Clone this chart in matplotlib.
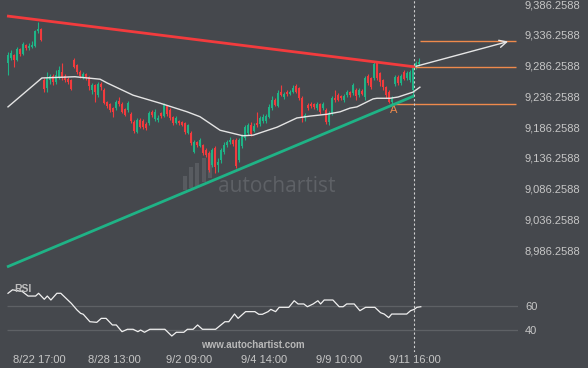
import matplotlib
matplotlib.use('Agg')
import matplotlib.pyplot as plt
from matplotlib.patches import Rectangle

# ---------------- data ----------------
opens = [9290, 9298, 9303, 9295, 9313, 9305, 9320, 9315, 9316, 9318, 9342, 9346,
         9263, 9250, 9263, 9269, 9259, 9268, 9276, 9269, 9264, 9263,
         9295, 9287, 9276, 9268, 9272, 9268, 9246, 9255, 9238, 9256, 9246, 9227,
         9224, 9217, 9217, 9229, 9224, 9216, 9214, 9207, 9194, 9178, 9198, 9196,
         9191, 9193, 9211, 9199, 9198, 9209, 9204, 9220, 9214, 9203, 9193, 9196,
         9194, 9193, 9177, 9177, 9146, 9162, 9155, 9157, 9149, 9144, 9125, 9152,
         9125, 9133, 9146, 9157, 9162, 9165, 9165, 9133, 9155, 9168, 9177, 9190,
         9180, 9193, 9191, 9196, 9196, 9203, 9217, 9230, 9220, 9243, 9235, 9243,
         9240, 9243, 9253, 9250, 9233, 9201, 9222, 9224, 9224, 9217, 9224, 9217,
         9214, 9194, 9209, 9233, 9238, 9237, 9230, 9238, 9243, 9242, 9246, 9238,
         9245, 9235, 9269, 9266, 9266, 9290, 9274, 9263, 9251, 9243, 9227, 9256,
         9268, 9258, 9276, 9266, 9263, 9246, 9282, 9289]
closes = [9303, 9307, 9295, 9313, 9305, 9321, 9315, 9318, 9320, 9342, 9346, 9328,
          9248, 9266, 9269, 9259, 9271, 9279, 9266, 9263, 9259, 9248,
          9284, 9276, 9269, 9272, 9268, 9253, 9255, 9243, 9256, 9251, 9225, 9220,
          9214, 9211, 9227, 9224, 9211, 9206, 9225, 9196, 9180, 9198, 9186, 9186,
          9185, 9209, 9206, 9211, 9201, 9204, 9222, 9207, 9201, 9193, 9201, 9193,
          9190, 9178, 9190, 9160, 9162, 9157, 9165, 9144, 9141, 9116, 9149, 9121,
          9129, 9149, 9157, 9162, 9165, 9159, 9123, 9165, 9172, 9186, 9190, 9175,
          9188, 9190, 9201, 9203, 9204, 9219, 9230, 9222, 9242, 9238, 9240, 9240,
          9243, 9250, 9243, 9233, 9201, 9206, 9217, 9220, 9219, 9224, 9211, 9224,
          9194, 9209, 9233, 9230, 9230, 9233, 9237, 9243, 9238, 9255, 9237, 9246,
          9240, 9266, 9258, 9251, 9289, 9266, 9259, 9251, 9238, 9227, 9233, 9268,
          9258, 9269, 9264, 9274, 9276, 9282, 9290, 9292]
highs = [9308, 9311, 9305, 9316, 9315, 9324, 9321, 9323, 9326, 9344, 9357, 9347,
         9266, 9276, 9272, 9272, 9279, 9285, 9290, 9272, 9268, 9264,
         9298, 9289, 9279, 9276, 9274, 9269, 9258, 9256, 9259, 9259, 9250, 9229,
         9225, 9219, 9230, 9235, 9227, 9217, 9229, 9211, 9198, 9201, 9201, 9199,
         9194, 9212, 9214, 9216, 9206, 9211, 9225, 9222, 9217, 9204, 9204, 9198,
         9196, 9194, 9191, 9180, 9165, 9164, 9168, 9159, 9152, 9147, 9152, 9155,
         9136, 9152, 9162, 9165, 9170, 9167, 9168, 9168, 9175, 9190, 9193, 9194,
         9193, 9211, 9204, 9207, 9207, 9224, 9237, 9233, 9246, 9255, 9243, 9246,
         9246, 9255, 9256, 9251, 9237, 9209, 9225, 9227, 9225, 9227, 9225, 9227,
         9217, 9212, 9237, 9246, 9242, 9238, 9240, 9246, 9245, 9258, 9250, 9250,
         9248, 9269, 9272, 9268, 9292, 9292, 9276, 9264, 9253, 9246, 9237, 9271,
         9271, 9272, 9279, 9277, 9279, 9287, 9294, 9298]
lows = [9271, 9295, 9284, 9294, 9302, 9303, 9311, 9311, 9315, 9316, 9339, 9326,
        9243, 9243, 9256, 9255, 9256, 9264, 9263, 9259, 9256, 9246,
        9282, 9272, 9266, 9264, 9263, 9246, 9240, 9227, 9235, 9246, 9224, 9217,
        9211, 9203, 9214, 9220, 9209, 9204, 9211, 9193, 9177, 9177, 9185, 9183,
        9181, 9190, 9203, 9196, 9194, 9201, 9203, 9204, 9198, 9190, 9191, 9190,
        9188, 9175, 9175, 9157, 9144, 9154, 9154, 9141, 9138, 9113, 9121, 9112,
        9113, 9128, 9142, 9154, 9159, 9155, 9120, 9129, 9152, 9165, 9173, 9172,
        9178, 9186, 9188, 9193, 9193, 9201, 9214, 9220, 9219, 9237, 9232, 9237,
        9238, 9242, 9242, 9230, 9194, 9196, 9214, 9217, 9216, 9214, 9207, 9214,
        9191, 9190, 9206, 9227, 9229, 9230, 9227, 9235, 9235, 9238, 9230, 9235,
        9238, 9230, 9255, 9248, 9263, 9263, 9253, 9246, 9233, 9225, 9224, 9253,
        9255, 9255, 9263, 9263, 9259, 9235, 9281, 9285]

ma_x = [0, 11.3, 22.3, 30.7, 33, 41.7, 50.7, 59.7, 64, 70.7, 78.3, 81.7, 89.7,
        96.3, 100.7, 106.3, 110.7, 114, 116.3, 121.7, 123, 127.3, 130, 135, 137.3]
ma_v = [9219, 9266, 9268, 9264, 9258, 9238, 9225, 9211, 9203, 9181, 9172, 9173, 9186,
        9201, 9204, 9207, 9211, 9217, 9219, 9232, 9233, 9233, 9235, 9243, 9251]

rsi_x = [0, 1.5, 4.8, 6.7, 9.2, 10.2, 12.1, 13.1, 14.3, 16.3, 17.6, 21.1, 23, 24.2,
         25.1, 27.3, 29.6, 31.1, 32.7, 34.8, 36.1, 38, 39.8, 41.7, 43.3, 44.2, 45.5,
         47.3, 52.3, 54.6, 56.1, 58.6, 59.8, 61.7, 63.2, 64.8, 69.2, 72.3, 73.6, 75.5,
         76.7, 79.2, 82.3, 83.6, 84.8, 86.7, 87.6, 89.2, 90.4, 93.6, 95.4, 96.7, 98.6,
         99.8, 101.7, 103.3, 104.2, 105.4, 108.3, 110.4, 111.7, 112.9, 115.4, 117.3,
         119.2, 122.3, 124.2, 125.4, 126.9, 127.9, 132.9, 134.2, 135.4, 136.3, 137.6]
rsi_v = [70.6, 73.5, 72.0, 68.3, 68.3, 70.6, 65.6, 68.3, 65.0, 70.6, 70.6, 62.2, 56.7, 53.9,
         53.1, 46.9, 46.4, 49.7, 49.7, 44.2, 44.2, 38.6, 40.6, 40.6, 38.6, 40.0, 38.1,
         40.6, 40.6, 35.0, 38.1, 38.1, 40.6, 40.6, 44.2, 40.6, 40.6, 46.9, 46.9, 53.3,
         49.7, 55.3, 55.3, 53.1, 53.1, 55.3, 57.2, 55.3, 58.9, 58.9, 64.4, 61.7, 61.7,
         59.4, 61.7, 64.4, 61.7, 65.0, 65.0, 59.4, 59.4, 61.7, 61.7, 56.1,
         58.9, 58.9, 54.4, 53.3, 50.3, 53.3, 53.3, 56.1, 57.2, 58.9, 59.4]

resist_x = [-0.33, 135.7]
resist_y = [9366.8, 9284.0]
support_x = [-0.33, 135.3]
support_y = [8958.7, 9236.7]
arrow_from = (136.0, 9285.0)
arrow_to = (166.7, 9325.3)
levels = [9325.6, 9283.4, 9223.2]
level_start = [137.3, 135.7, 127.7]
level_end = 169.3
point_a = (128.7, 9214.0)
now_x = 135.4

price_ticks = [9386.2588, 9336.2588, 9286.2588, 9236.2588, 9186.2588,
               9136.2588, 9086.2588, 9036.2588, 8986.2588]
date_ticks = [10.5, 35.5, 60.5, 85.5, 110.5, 135.5]
date_labels = ['8/22 17:00', '8/28 13:00', '9/2 09:00', '9/4 14:00',
               '9/9 10:00', '9/11 16:00']
rsi_ticks = [60, 40]

# ---------------- style ----------------
BG = '#45484d'
GREEN = '#1fb386'
RED = '#f23b3d'
ORANGE = '#ee8a4c'
TXT = '#c6c6c6'
FONT = 'Liberation Sans'

fig = plt.figure(figsize=(5.88, 3.68), dpi=100)
fig.patch.set_facecolor(BG)

ax = fig.add_axes([0, 1 - 283 / 368, 518 / 588, 283 / 368])
rx = fig.add_axes([0, 1 - 352 / 368, 518 / 588, (352 - 283) / 368], sharex=ax)
for a in (ax, rx):
    a.set_facecolor(BG)
    for s in a.spines.values():
        s.set_visible(False)
    a.tick_params(length=0, colors=TXT, labelsize=8, pad=5)
    a.yaxis.tick_right()

ax.set_xlim(-8 / 3, 170)
ax.set_ylim(8932.6, 9392.8)
rx.set_ylim(21.67, 79.17)

# watermark logo bars and text
for (bx, by0, by1) in [(183, 190, 176), (189, 188, 167), (195, 186, 163), (202, 182, 158), (208, 178, 153)]:
    ax.add_patch(Rectangle((bx / 518, 1 - by0 / 283), 4 / 518, (by0 - by1) / 283,
                           transform=ax.transAxes, color='#585b60', zorder=0.5, lw=0))
fig.text(277 / 588, 1 - 186 / 368, 'autochartist', color='#5e6166', fontsize=15,
         family='Open Sans', ha='center', va='center', zorder=0.6)

# candles
n = len(opens)
for i in range(n):
    o, c, h, l = opens[i], closes[i], highs[i], lows[i]
    col = GREEN if c >= o else RED
    ax.vlines(i, l, h, color=col, lw=0.8, zorder=2)
    hgt = c - o
    if abs(hgt) < 1.8:
        hgt = 1.8 if hgt >= 0 else -1.8
    ax.bar(i, hgt, bottom=o, width=0.8, color=col, lw=0, zorder=3)

# moving average
ax.plot(ma_x, ma_v, color='#e4e4e4', lw=1.0, zorder=4)

# trend lines
ax.plot(resist_x, resist_y, color=RED, lw=2.0, zorder=5, solid_capstyle='butt')
ax.plot(support_x, support_y, color=GREEN, lw=2.0, zorder=5, solid_capstyle='butt')

# levels
for lv, xs in zip(levels, level_start):
    ax.hlines(lv, xs, level_end, color=ORANGE, lw=1.0, zorder=4)

ax.annotate('', xy=arrow_to, xytext=arrow_from,
            arrowprops=dict(arrowstyle='->', color='#e6e6e6', lw=1.0, mutation_scale=13,
                            shrinkA=0, shrinkB=0), zorder=6)
ax.text(point_a[0], point_a[1], 'A', color=ORANGE, fontsize=8, family=FONT,
        ha='center', va='center')

# vertical now line
for a in (ax, rx):
    a.axvline(now_x, color='#cfcfcf', lw=0.8, dashes=(2, 2), zorder=6)

# ticks
ax.set_yticks(price_ticks)
ax.set_yticklabels([f'{v:,.4f}' for v in price_ticks], family=FONT)
ax.tick_params(axis='x', labelbottom=False)

rx.set_yticks(rsi_ticks)
rx.set_yticklabels([str(v) for v in rsi_ticks], family=FONT)
rx.set_xticks(date_ticks)
rx.set_xticklabels(date_labels, family=FONT)
rx.tick_params(axis='x', pad=2)

# RSI
rx.hlines(rsi_ticks, -0.2, 170, color='#5e6165', lw=0.9, zorder=1)
rx.plot(rsi_x, rsi_v, color='#f0f0f0', lw=0.9, zorder=3)
rx.text(2.0, 74.5, 'RSI', color='#bdbdbd', fontsize=7.5, fontweight='bold',
        family=FONT, ha='left', va='center', zorder=4)
fig.text(253 / 588, 1 - 345 / 368, 'www.autochartist.com', color='#b8b8b8', fontsize=7,
         fontweight='bold', family=FONT, ha='center', va='center')

fig.savefig('out.png', dpi=100, facecolor=BG)
